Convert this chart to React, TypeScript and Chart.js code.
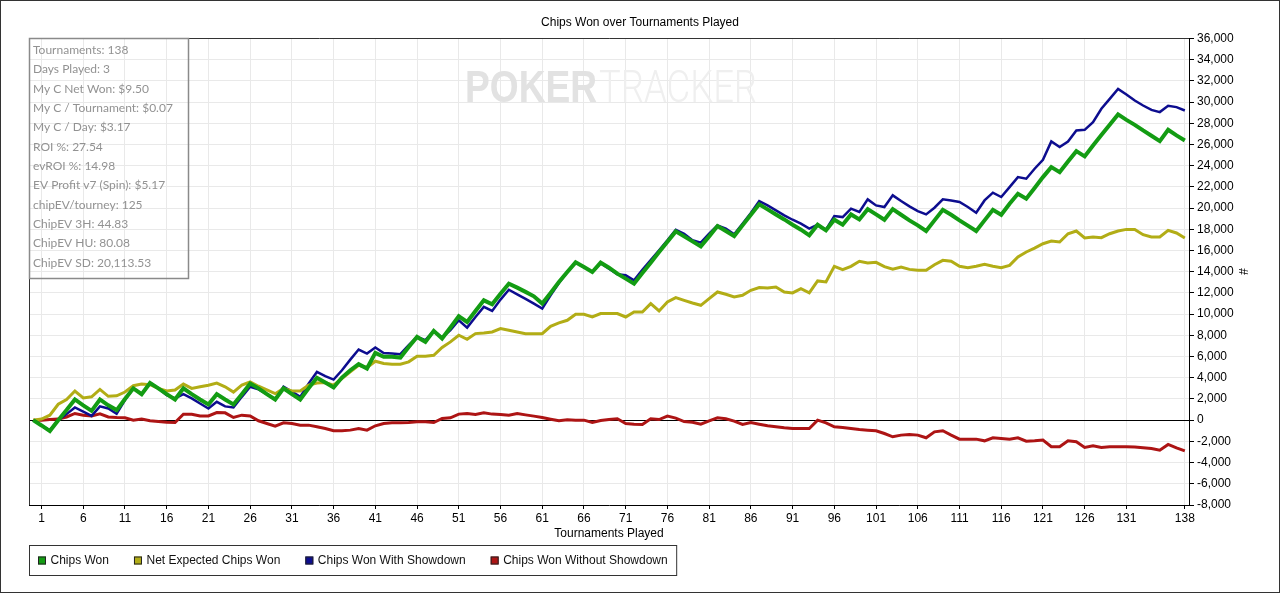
import { useEffect, useRef } from "react";
import { Chart, registerables } from "chart.js";
import type { Plugin } from "chart.js";

Chart.register(...registerables);

const W = 1280;
const H = 593;

// tournament index 0..138 (0 = start, before the first tournament)
const tournaments = Array.from({ length: 139 }, (_, i) => String(i));
const xTickLabels = [1, 6, 11, 16, 21, 26, 31, 36, 41, 46, 51, 56, 61, 66, 71, 76, 81, 86, 91, 96, 101, 106, 111, 116, 121, 126, 131, 138];

const chipsWon = [
  0, -500, -1030, 0, 950, 1950, 1400, 880, 1950, 1400,
  950, 2000, 3000, 2450, 3500, 3000, 2450, 1950, 3000, 2450,
  1950, 1480, 2450, 1950, 1480, 2450, 3450, 3000, 2450, 1950,
  3000, 2450, 1950, 3000, 4000, 3550, 3080, 4020, 4710, 5280,
  4870, 6340, 5970, 5970, 5900, 6900, 7850, 7380, 8420, 7700,
  8730, 9800, 9260, 10300, 11300, 10930, 11930, 12870, 12500, 12100,
  11680, 11000, 12000, 13030, 13970, 14880, 14440, 13970, 14850, 14380,
  13820, 13350, 12870, 13880, 14850, 15860, 16830, 17800, 17330, 16860,
  16390, 17330, 18300, 17830, 17360, 18370, 19370, 20350, 19880, 19400,
  18930, 18430, 17960, 17430, 18430, 17900, 18900, 18430, 19400, 18930,
  19900, 19400, 18900, 19900, 19370, 18840, 18370, 17840, 18840, 19840,
  19370, 18840, 18340, 17840, 18840, 19840, 19370, 20410, 21350, 20880,
  21890, 22920, 23860, 23390, 24400, 25370, 24870, 25900, 26880, 27850,
  28830, 28320, 27850, 27320, 26820, 26310, 27380, 26850, 26380,
];

const netExpected = [
  0, 100, 470, 1500, 1950, 2750, 2100, 2200, 2900, 2250,
  2300, 2650, 3250, 3400, 3350, 3000, 2750, 2850, 3400, 3000,
  3150, 3300, 3500, 3150, 2650, 3300, 3600, 3200, 2850, 2500,
  3000, 2750, 2750, 3300, 3500, 3550, 3300, 3930, 4550, 5180,
  4960, 5560, 5340, 5280, 5280, 5500, 6030, 6030, 6120, 6850,
  7380, 8010, 7630, 8160, 8230, 8320, 8640, 8480, 8320, 8160,
  8160, 8160, 8850, 9170, 9420, 9990, 9990, 9730, 10050, 10050,
  10050, 9730, 10200, 10200, 10990, 10300, 11150, 11560, 11300, 11050,
  10830, 11460, 12090, 11870, 11620, 11780, 12250, 12500, 12470, 12560,
  12090, 12000, 12400, 12000, 13130, 13030, 14510, 14190, 14510, 14980,
  14820, 14880, 14480, 14240, 14440, 14220, 14130, 14130, 14660, 15070,
  14980, 14510, 14380, 14510, 14690, 14510, 14380, 14600, 15390, 15860,
  16230, 16640, 16890, 16800, 17580, 17840, 17180, 17270, 17210, 17580,
  17840, 17990, 17990, 17490, 17270, 17270, 17900, 17650, 17180,
];

const withShowdown = [
  0, -480, -950, 0, 570, 1200, 800, 400, 1300, 1100,
  600, 1900, 3000, 2450, 3500, 3000, 2350, 2050, 2450, 2050,
  1570, 1100, 1730, 1300, 1200, 2200, 3150, 2900, 2450, 1950,
  3150, 2700, 2200, 3450, 4550, 4150, 3830, 4710, 5710, 6660,
  6280, 6850, 6340, 6280, 6220, 7070, 7850, 7540, 8420, 7790,
  8480, 9420, 8730, 9730, 10680, 10300, 11370, 12300, 11870, 11430,
  10990, 10520, 11780, 12940, 13970, 14880, 14440, 13970, 14800, 14290,
  13750, 13660, 13190, 14190, 15100, 16010, 16960, 17960, 17580, 16960,
  16740, 17580, 18370, 18060, 17520, 18530, 19530, 20660, 20250, 19780,
  19310, 18900, 18530, 18060, 18430, 17960, 19250, 19150, 19940, 19630,
  20820, 20250, 20100, 21200, 20660, 20160, 19720, 19400, 20030, 20820,
  20720, 20570, 20100, 19560, 20720, 21450, 21040, 21980, 22920, 22770,
  23710, 24550, 26280, 25750, 26280, 27320, 27380, 28100, 29360, 30300,
  31240, 30710, 30140, 29670, 29260, 29050, 29640, 29520, 29200,
];

const withoutShowdown = [
  0, 0, 60, 100, 300, 630, 470, 400, 600, 300,
  250, 220, 0, 100, -60, -120, -190, -220, 560, 560,
  400, 400, 720, 690, 250, 470, 400, -60, -310, -560,
  -250, -310, -470, -470, -630, -790, -1000, -1000, -940, -790,
  -940, -530, -310, -250, -250, -220, -160, -160, -220, 160,
  220, 570, 630, 530, 690, 570, 530, 470, 630, 500,
  380, 250, 90, -60, 30, 0, 0, -220, -30, 60,
  130, -310, -380, -410, 130, 60, 380, 190, -130, -190,
  -380, -60, 220, 130, -90, -410, -220, -380, -530, -630,
  -720, -790, -790, -790, 0, -250, -630, -690, -790, -880,
  -940, -1000, -1260, -1570, -1410, -1350, -1410, -1660, -1100, -1000,
  -1410, -1790, -1790, -1790, -1950, -1660, -1730, -1790, -1660, -1980,
  -1950, -1880, -2510, -2510, -1950, -2040, -2570, -2420, -2570, -2510,
  -2510, -2510, -2540, -2610, -2670, -2830, -2290, -2610, -2890,
];

const statLines = [
  "Tournaments: 138",
  "Days Played: 3",
  "My C Net Won: $9.50",
  "My C / Tournament: $0.07",
  "My C / Day: $3.17",
  "ROI %: 27.54",
  "evROI %: 14.98",
  "EV Profit v7 (Spin): $5.17",
  "chipEV/tourney: 125",
  "ChipEV 3H: 44.83",
  "ChipEV HU: 80.08",
  "ChipEV SD: 20,113.53",
];

const FONT = "'Liberation Sans', Arial, sans-serif";

// watermark, plot frame, stats box and boxed legend
const decorations: Plugin<"line"> = {
  id: "decorations",
  beforeDatasetsDraw(chart) {
    const { ctx } = chart;
    ctx.save();
    ctx.textBaseline = "alphabetic";
    ctx.fillStyle = "#e2e2e2";
    ctx.font = `bold 44px ${FONT}`;
    ctx.fillText("POKER", 465, 102, 132);
    ctx.fillStyle = "#efefef";
    ctx.font = "300 44px Roboto, sans-serif";
    ctx.fillText("TRACKER", 599, 102, 158);
    ctx.restore();
  },
  afterDraw(chart) {
    const { ctx, chartArea } = chart;
    ctx.save();

    // top and left border of the plot
    ctx.strokeStyle = "#333";
    ctx.lineWidth = 1;
    ctx.beginPath();
    ctx.moveTo(Math.round(chartArea.left) + 0.5, Math.round(chartArea.bottom));
    ctx.lineTo(Math.round(chartArea.left) + 0.5, Math.round(chartArea.top) + 0.5);
    ctx.lineTo(Math.round(chartArea.right), Math.round(chartArea.top) + 0.5);
    ctx.stroke();

    // stats box
    ctx.strokeStyle = "#8a8a8a";
    ctx.lineWidth = 1.5;
    ctx.strokeRect(29.5, 38.5, 159, 240);
    ctx.fillStyle = "#929292";
    ctx.font = "12px Lato, 'Noto Sans', sans-serif";
    ctx.textBaseline = "middle";
    ctx.textAlign = "left";
    statLines.forEach((line, i) => ctx.fillText(line, 33, 50 + i * 19.35));

    // legend
    ctx.font = `12px ${FONT}`;
    const ly = 560.5;
    let x = 38;
    chart.data.datasets.forEach((ds) => {
      ctx.fillStyle = ds.borderColor as string;
      ctx.fillRect(x, ly - 4, 8, 8);
      ctx.strokeStyle = "#222";
      ctx.lineWidth = 1;
      ctx.strokeRect(x + 0.5, ly - 3.5, 7, 7);
      ctx.fillStyle = "#111";
      ctx.fillText(ds.label ?? "", x + 12.5, ly);
      x += 12.5 + ctx.measureText(ds.label ?? "").width + 25;
    });
    ctx.strokeStyle = "#333";
    ctx.lineWidth = 1;
    ctx.strokeRect(29.5, 545.5, x - 25 + 9 - 29.5, 30);

    // outer frame
    ctx.strokeRect(0.5, 0.5, W - 1, H - 1);
    ctx.restore();
  },
};

export default function App() {
  const canvasRef = useRef<HTMLCanvasElement>(null);
  const chartRef = useRef<Chart<"line"> | null>(null);

  useEffect(() => {
    const ctx = canvasRef.current?.getContext("2d");
    if (!ctx) return;

    Chart.defaults.font.family = FONT;
    Chart.defaults.font.size = 12;
    Chart.defaults.color = "#000";

    chartRef.current?.destroy();
    chartRef.current = new Chart(ctx, {
      type: "line",
      data: {
        labels: tournaments,
        datasets: [
          { label: "Chips Won", data: chipsWon, borderColor: "#139c13", borderWidth: 4 },
          { label: "Net Expected Chips Won", data: netExpected, borderColor: "#b2ad16", borderWidth: 3 },
          { label: "Chips Won With Showdown", data: withShowdown, borderColor: "#0d0d8f", borderWidth: 2.5 },
          { label: "Chips Won Without Showdown", data: withoutShowdown, borderColor: "#ad1414", borderWidth: 3 },
        ],
      },
      options: {
        responsive: false,
        animation: false,
        devicePixelRatio: 1,
        elements: { point: { radius: 0 }, line: { tension: 0, fill: false } },
        layout: { padding: { left: 29, right: 29, top: 0, bottom: 50 } },
        plugins: {
          legend: { display: false },
          tooltip: { enabled: false },
          title: {
            display: true,
            text: "Chips Won over Tournaments Played",
            color: "#000",
            font: { size: 12, weight: "normal" },
            padding: { top: 15, bottom: 9 },
          },
        },
        scales: {
          x: {
            type: "category",
            offset: true,
            border: { color: "#000" },
            grid: { color: "#e9e9e9", tickColor: "#000", tickLength: 4 },
            ticks: {
              autoSkip: false,
              maxRotation: 0,
              padding: 2,
              color: "#000",
              callback: function (value) {
                const label = this.getLabelForValue(value as number);
                return xTickLabels.includes(Number(label)) ? label : null;
              },
            },
            title: { display: true, text: "Tournaments Played", color: "#000", padding: { top: 0, bottom: 2 } },
            afterFit: (scale) => {
              scale.height = 38;
            },
          },
          y: {
            position: "right",
            min: -8000,
            max: 36000,
            border: { color: "#000" },
            grid: {
              color: (c) => (c.tick && c.tick.value === 0 ? "#000" : "#e9e9e9"),
              tickColor: "#000",
              tickLength: 5,
            },
            ticks: {
              stepSize: 2000,
              padding: 3,
              color: "#000",
              callback: (v) => Number(v).toLocaleString("en-US"),
            },
            title: { display: true, text: "#", color: "#000", padding: { top: 1, bottom: 0 } },
            afterFit: (scale) => {
              scale.width = 62;
            },
          },
        },
      },
      plugins: [decorations],
    });

    return () => {
      chartRef.current?.destroy();
      chartRef.current = null;
    };
  }, []);

  return (
    <div style={{ position: "fixed", left: 0, top: 0, width: W, height: H, background: "#fff" }}>
      <canvas ref={canvasRef} width={W} height={H} />
    </div>
  );
}
